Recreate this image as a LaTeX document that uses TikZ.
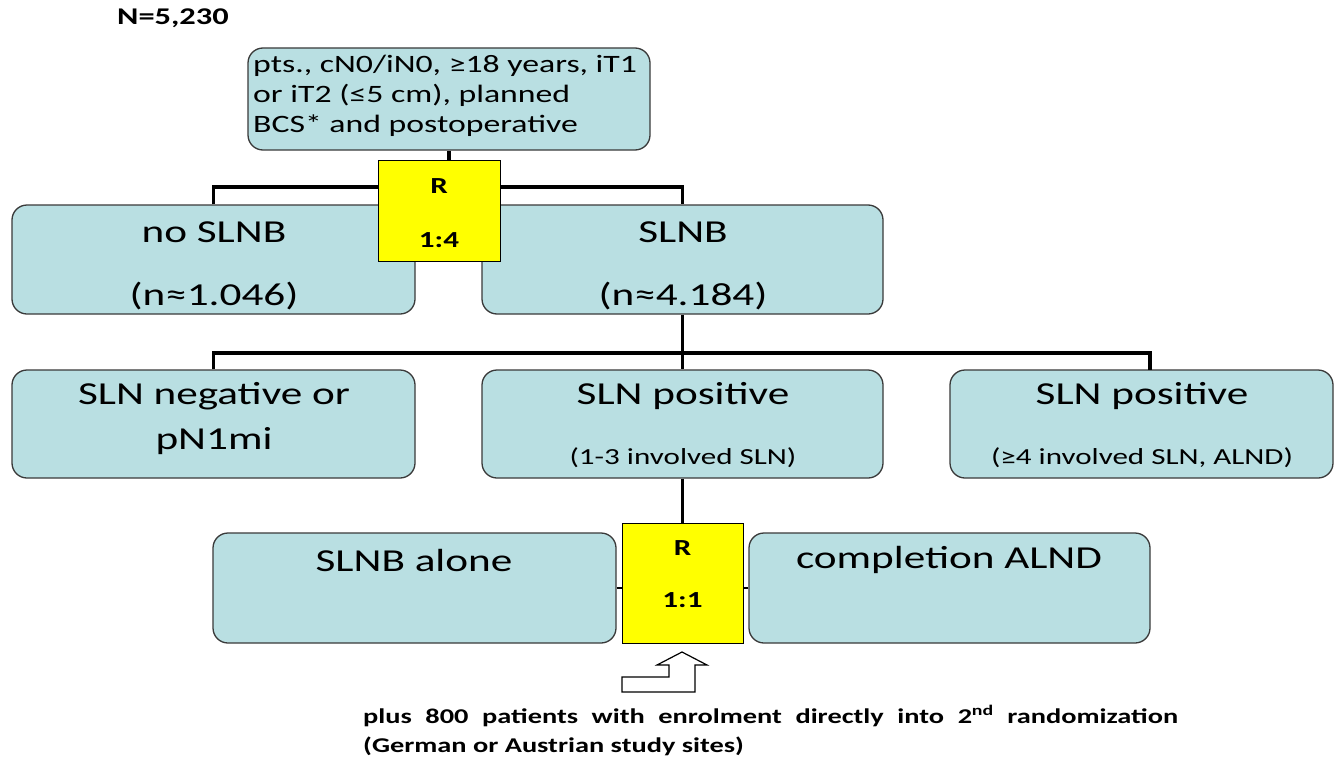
\documentclass[tikz,border=0pt]{standalone}
\usepackage{fontspec}
\setmainfont{Carlito}[FakeStretch=1.35]
\definecolor{boxfill}{HTML}{B9DFE2}
\definecolor{boxline}{HTML}{3A3A3A}
\definecolor{ybox}{HTML}{FFFF00}
\tikzset{
  box/.style={draw=boxline, fill=boxfill, line width=1.3pt, rounded corners=15pt, inner sep=0pt},
  ybox/.style={draw=black, fill=ybox, line width=1pt, inner sep=0pt},
  conn/.style={draw=black, line width=3.6pt},
  tick/.style={draw=black, line width=1.6pt},
  big/.style={font=\fontsize{32}{38}\selectfont, inner sep=0pt},
  small/.style={font=\fontsize{23}{28}\selectfont, inner sep=0pt},
  ytext/.style={font=\fontsize{23}{27}\selectfont\bfseries, inner sep=0pt},
  toptext/.style={font=\fontsize{25}{30}\selectfont, inner sep=0pt, align=left},
  note/.style={font=\fontsize{21}{30}\selectfont\bfseries, inner sep=0pt},
}
\begin{document}
\begin{tikzpicture}[x=1pt, y=-1pt]
\useasboundingbox (0,0) rectangle (1337,760);
\fill[white] (0,0) rectangle (1337,760);

% boxes
\node[box, minimum width=402pt, minimum height=102pt] (top) at (449,99) {};
\node[box, minimum width=403pt, minimum height=109pt] (nosl) at (213.5,259.5) {};
\node[box, minimum width=401pt, minimum height=109pt] (slnb) at (682.5,259.5) {};
\node[box, minimum width=403pt, minimum height=108pt] (neg) at (213.5,424) {};
\node[box, minimum width=401pt, minimum height=108pt] (pos) at (682.5,424) {};
\node[box, minimum width=383pt, minimum height=108pt] (pos4) at (1141.5,424) {};
\node[box, minimum width=403pt, minimum height=110pt] (alone) at (414.5,588) {};
\node[box, minimum width=401pt, minimum height=110pt] (alnd) at (949.5,588) {};

% connectors
\coordinate (j1) at (449,187);
\coordinate (j2) at (682.5,353);
\coordinate (p4top) at (1150,370);
\draw[conn] (top.south) -- (j1);
\draw[conn] (nosl.north) |- (j1) -| (slnb.north);
\draw[conn] (slnb.south) -- (j2);
\draw[conn] (neg.north) |- (j2) -| (p4top);
\draw[conn] (j2) -- (pos.north);

% randomisation boxes
\node[ybox, minimum width=122pt, minimum height=101pt] (y1) at (439,210.5) {};
\node[ybox, minimum width=121pt, minimum height=120pt] (y2) at (682.5,583) {};
\draw[conn] (pos.south) -- (y2.north);
\draw[tick] (alone.east) -- (alone.east -| y2.west);
\draw[tick] (alnd.west) -- (alnd.west -| y2.east);

% texts
\node[font=\fontsize{24}{28}\selectfont\bfseries, inner sep=0pt, anchor=west] (n) at (117,18) {N=5,230};
\node[toptext, anchor=west] (toptx) at (253,96) {pts., cN0/iN0, ≥18 years, iT1\\or iT2 (≤5 cm), planned\\BCS* and postoperative};

\node[big] (t1) at (214,232) {no SLNB};
\node[big] (t2) at (214,296) {(n≈1.046)};
\node[big] (t3) at (683,232) {SLNB};
\node[big] (t4) at (683,296) {(n≈4.184)};
\node[big] (t5) at (214,396) {SLN negative or};
\node[big] (t6) at (214,441) {pN1mi};
\node[big] (t7) at (683,396) {SLN positive};
\node[small] (t8) at (683,458) {(1-3 involved SLN)};
\node[big] (t9) at (1142,396) {SLN positive};
\node[small] (t10) at (1142,458) {(≥4 involved SLN, ALND)};
\node[big] (t11) at (414,560) {SLNB alone};
\node[big] (t12) at (949,560) {completion ALND};

\node[ytext] (r1) at (439,186) {R};
\node[ytext] (q1) at (439,240) {1:4};
\node[ytext] (r2) at (682.5,548) {R};
\node[ytext] (q2) at (682.5,600) {1:1};

% hollow arrow
\draw[line width=1.2pt, fill=white] (622,677) -- (669,677) -- (669,665) -- (657,665) -- (682,652) -- (707,665) -- (695,665) -- (695,692) -- (622,692) -- cycle;

\node[note, anchor=west] (b1) at (363,716) {\makebox[815pt][s]{plus 800 patients with enrolment directly into 2\textsuperscript{nd} randomization}};
\node[note, anchor=west] (b2) at (363,746) {(German or Austrian study sites)};
\end{tikzpicture}
\end{document}
